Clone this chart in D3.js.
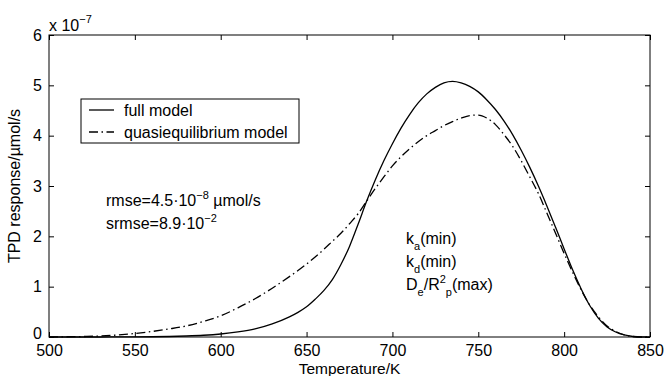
<!DOCTYPE html>
<html><head><meta charset="utf-8">
<script src="https://cdn.jsdelivr.net/npm/d3@7"></script>
<style>body{margin:0;background:#fff;}text{font-family:"Liberation Sans",Arial,sans-serif;fill:#000;}</style>
</head><body><svg id="c" width="664" height="376"></svg>
<script>
const temps = [500,510,520,530,540,550,560,570,580,590,600,610,620,630,640,645,650,655,660,665,670,675,680,685,690,695,700,705,710,715,720,725,730,735,740,745,750,755,760,765,770,775,780,785,790,795,800,805,810,815,820,825,830,835,840,845,850];
const fullModel = [0,0,0,0,0.001,0.002,0.005,0.01,0.02,0.035,0.06,0.1,0.16,0.26,0.4,0.49,0.6,0.75,0.92,1.14,1.44,1.8,2.24,2.7,3.12,3.5,3.84,4.15,4.42,4.65,4.83,4.96,5.05,5.08,5.05,4.98,4.87,4.71,4.52,4.29,4.02,3.71,3.37,3.0,2.6,2.18,1.75,1.33,0.95,0.62,0.37,0.2,0.1,0.04,0.01,0,0];
const quasiModel = [0,0.005,0.01,0.02,0.04,0.07,0.11,0.16,0.22,0.31,0.42,0.58,0.76,0.97,1.2,1.32,1.45,1.59,1.74,1.9,2.06,2.25,2.45,2.7,2.95,3.18,3.4,3.58,3.74,3.88,4.0,4.1,4.2,4.28,4.35,4.4,4.41,4.35,4.22,4.02,3.79,3.5,3.18,2.85,2.46,2.06,1.66,1.28,0.93,0.63,0.4,0.22,0.11,0.04,0.01,0,0];
const xTicks = [500,550,600,650,700,750,800,850];
const yTicks = [0,1,2,3,4,5,6];
const legendLabels = ["full model","quasiequilibrium model"];

const svg = d3.select("#c");
const L=49,R=650,T=35,B=337;
const x = d3.scaleLinear().domain([500,850]).range([L,R]);
const y = d3.scaleLinear().domain([0,6]).range([B,T]);
const fs = 16;
const dash = "9,3.5,1.5,3.5";

svg.append("rect").attr("x",L).attr("y",T).attr("width",R-L).attr("height",B-T).attr("fill","none").attr("stroke","#000").attr("stroke-width",1);

function ax(gen, tr, labels){
  const g = svg.append("g").attr("transform",tr).call(gen);
  g.select(".domain").remove();
  g.selectAll(".tick line").attr("stroke","#000");
  if(!labels) g.selectAll(".tick text").remove();
  else g.selectAll(".tick text").attr("font-size",fs).style("font-family","Liberation Sans, Arial, sans-serif");
  return g;
}
ax(d3.axisBottom(x).tickValues(xTicks).tickSize(-5).tickPadding(8).tickFormat(d3.format("d")),`translate(0,${B})`,true);
ax(d3.axisTop(x).tickValues(xTicks).tickSize(-5),`translate(0,${T})`,false);
const yg = ax(d3.axisLeft(y).tickValues(yTicks).tickSize(-5).tickPadding(7).tickFormat(d3.format("d")),`translate(${L},0)`,true);
yg.selectAll(".tick text").filter(d=>d===0).attr("y",-4);
ax(d3.axisRight(y).tickValues(yTicks).tickSize(-5),`translate(${R},0)`,false);

const line = d3.line().x((d,i)=>x(temps[i])).y(d=>y(d)).curve(d3.curveMonotoneX);
svg.append("path").datum(fullModel).attr("d",line).attr("fill","none").attr("stroke","#000").attr("stroke-width",1.3);
svg.append("path").datum(quasiModel).attr("d",line).attr("fill","none").attr("stroke","#000").attr("stroke-width",1.3).attr("stroke-dasharray",dash);

// exponent label
const ex = svg.append("text").attr("x",49).attr("y",31).attr("font-size",fs);
ex.append("tspan").text("x 10");
ex.append("tspan").attr("dy",-8).attr("font-size",11).text("−7");

// axis titles
svg.append("text").attr("x",(L+R)/2).attr("y",374).attr("text-anchor","middle").attr("font-size",15.5).text("Temperature/K");
svg.append("text").attr("transform",`translate(20,${(T+B)/2}) rotate(-90)`).attr("text-anchor","middle").attr("font-size",fs).text("TPD response/µmol/s");

// legend
const lg = svg.append("g");
lg.append("rect").attr("x",81).attr("y",99).attr("width",218).attr("height",44).attr("fill","#fff").attr("stroke","#000").attr("stroke-width",1);
legendLabels.forEach((t,i)=>{
  const yy = 110 + i*22;
  lg.append("line").attr("x1",89).attr("x2",114).attr("y1",yy).attr("y2",yy).attr("stroke","#000").attr("stroke-width",1.3).attr("stroke-dasharray", i? dash:null);
  lg.append("text").attr("x",124).attr("y",yy+5.5).attr("font-size",fs).text(t);
});

// annotations
const a1 = svg.append("text").attr("x",106).attr("y",206).attr("font-size",fs);
a1.append("tspan").text("rmse=4.5·10");
a1.append("tspan").attr("dy",-7).attr("font-size",11).text("−8");
a1.append("tspan").attr("dy",7).text(" µmol/s");
const a2 = svg.append("text").attr("x",106).attr("y",229).attr("font-size",fs);
a2.append("tspan").text("srmse=8.9·10");
a2.append("tspan").attr("dy",-7).attr("font-size",11).text("−2");

function sub(xp,yp,parts){
  const t = svg.append("text").attr("x",xp).attr("y",yp).attr("font-size",fs);
  let cur=0;
  parts.forEach(p=>{
    const s = t.append("tspan").text(p[0]);
    const target = p[1];
    s.attr("dy",target-cur); cur=target;
    if(target!==0) s.attr("font-size",11);
  });
}
sub(406,244,[["k",0],["a",6],["(min)",0]]);
sub(406,267,[["k",0],["d",6],["(min)",0]]);
sub(406,290,[["D",0],["e",6],["/R",0],["2",-7],["p",6],["(max)",0]]);
</script></body></html>
